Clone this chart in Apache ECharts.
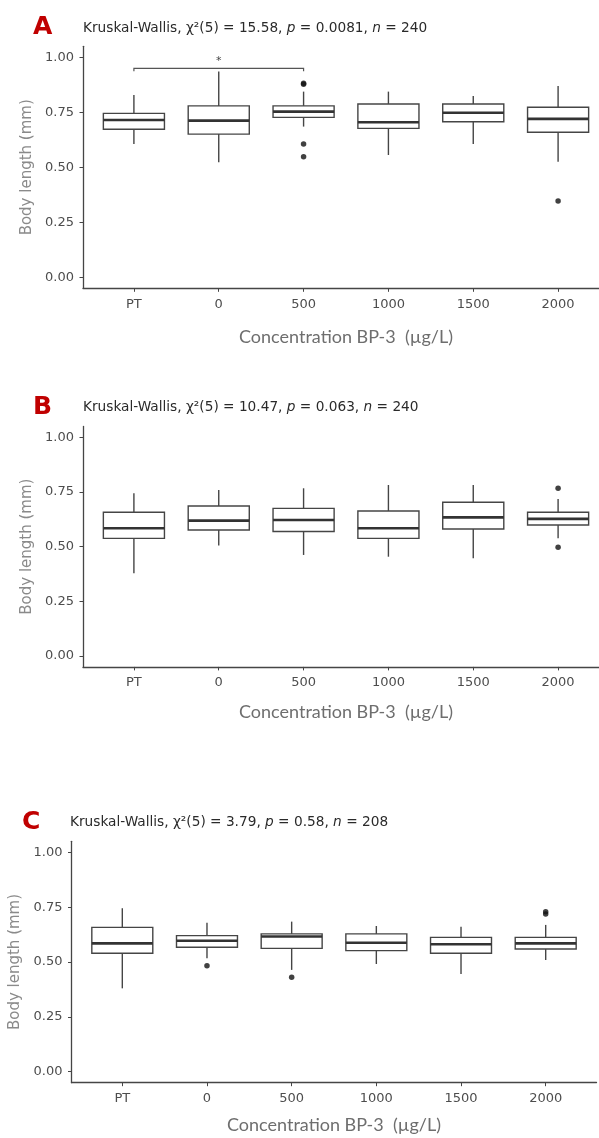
<!DOCTYPE html>
<html>
<head>
<meta charset="utf-8">
<title>Body length vs BP-3</title>
<script src="https://cdn.jsdelivr.net/npm/echarts@6/dist/echarts.min.js"></script>
<style>
  html, body { margin: 0; padding: 0; background: #fff; }
  #chart { width: 599px; height: 1138px; }
</style>
</head>
<body>
<div id="chart"></div>
<script>
// categories on the x axis
var categories = ['PT', '0', '500', '1000', '1500', '2000'];
var yTicks = [0, 0.25, 0.5, 0.75, 1];

// [min, Q1, median, Q3, max] for each category
var boxA = [
  [0.606, 0.673, 0.715, 0.745, 0.829],
  [0.523, 0.651, 0.712, 0.779, 0.935],
  [0.685, 0.727, 0.753, 0.779, 0.844],
  [0.556, 0.677, 0.705, 0.788, 0.844],
  [0.606, 0.707, 0.748, 0.788, 0.824],
  [0.525, 0.659, 0.720, 0.773, 0.870]
];
var boxB = [
  [0.378, 0.538, 0.584, 0.657, 0.744],
  [0.505, 0.576, 0.619, 0.686, 0.759],
  [0.462, 0.569, 0.622, 0.675, 0.767],
  [0.454, 0.538, 0.584, 0.663, 0.782],
  [0.447, 0.581, 0.634, 0.703, 0.782],
  [0.538, 0.599, 0.627, 0.657, 0.718]
];
var boxC = [
  [0.380, 0.540, 0.585, 0.658, 0.745],
  [0.517, 0.567, 0.597, 0.620, 0.679],
  [0.464, 0.562, 0.616, 0.628, 0.684],
  [0.491, 0.552, 0.588, 0.628, 0.664],
  [0.445, 0.540, 0.581, 0.612, 0.661],
  [0.509, 0.559, 0.585, 0.612, 0.669]
];

// outliers: [category, value]
var outA = [['500', 0.882], ['500', 0.877], ['500', 0.606], ['500', 0.548], ['2000', 0.347]];
var outB = [['2000', 0.767], ['2000', 0.497]];
var outC = [['0', 0.483], ['500', 0.430], ['2000', 0.729], ['2000', 0.719]];

// significance bracket in panel A: [from, to, level, tip]
var bracketA = [['PT', '500', 0.95, 0.937]];
var bracketLabel = '*';

// Kruskal-Wallis results
var letters = ['A', 'B', 'C'];
var chi2 = ['15.58', '10.47', '3.79'];
var pValues = ['0.0081', '0.063', '0.58'];
var nValues = ['240', '240', '208'];

var yName = 'Body length (mm)';
var xName = 'Concentration BP-3  (\u00b5g/L)';

var boxWidth = 0.72;
var sansFont = 'DejaVu Sans';
var lineColor = '#454545';

// grid geometry of each panel (px)
var layouts = [
  { left: 83, top: 46.3, width: 526, height: 242, letter: [33, 15], sub: [83, 21], nameGapY: 43, nameGapX: 40, labelMargin: 10 },
  { left: 83, top: 426.4, width: 526, height: 240.5, letter: [33, 395], sub: [83, 400], nameGapY: 43, nameGapX: 36, labelMargin: 9 },
  { left: 71.5, top: 841.3, width: 525, height: 241.4, letter: [22, 810], sub: [70, 815], nameGapY: 46, nameGapX: 33, labelMargin: 9 }
];

var boxes = [boxA, boxB, boxC];
var outliers = [outA, outB, outC];

function catPos(name) {
  return categories.indexOf(name) + 1;
}

function renderBox(params, api) {
  var x = api.value(0);
  var lo = api.coord([x, api.value(1)]);
  var q1 = api.coord([x, api.value(2)]);
  var md = api.coord([x, api.value(3)]);
  var q3 = api.coord([x, api.value(4)]);
  var hi = api.coord([x, api.value(5)]);
  var half = api.size([boxWidth, 0])[0] / 2;
  var thin = { stroke: lineColor, lineWidth: 1.4 };
  return {
    type: 'group',
    children: [
      { type: 'line', shape: { x1: lo[0], y1: lo[1], x2: q1[0], y2: q1[1] }, style: thin },
      { type: 'line', shape: { x1: q3[0], y1: q3[1], x2: hi[0], y2: hi[1] }, style: thin },
      {
        type: 'rect',
        shape: { x: q3[0] - half, y: q3[1], width: half * 2, height: q1[1] - q3[1] },
        style: { fill: '#fff', stroke: lineColor, lineWidth: 1.4 }
      },
      { type: 'line', shape: { x1: md[0] - half, y1: md[1], x2: md[0] + half, y2: md[1] }, style: { stroke: '#333', lineWidth: 2.6 } }
    ]
  };
}

function renderBracket(params, api) {
  var a = api.coord([api.value(0), api.value(2)]);
  var b = api.coord([api.value(1), api.value(2)]);
  var ta = api.coord([api.value(0), api.value(3)]);
  var tb = api.coord([api.value(1), api.value(3)]);
  return {
    type: 'group',
    children: [
      {
        type: 'polyline',
        shape: { points: [ta, a, b, tb] },
        style: { stroke: '#555', lineWidth: 1.2, fill: null }
      },
      {
        type: 'text',
        x: (a[0] + b[0]) / 2,
        y: a[1] - 2,
        style: { text: bracketLabel, fill: '#444', fontSize: 11, fontFamily: sansFont, align: 'center', verticalAlign: 'bottom' }
      }
    ]
  };
}

var option = {
  animation: false,
  backgroundColor: '#fff',
  title: [],
  grid: [],
  xAxis: [],
  yAxis: [],
  series: []
};

layouts.forEach(function(l, i) {
  option.title.push({
    text: letters[i],
    left: l.letter[0],
    top: l.letter[1],
    padding: 0,
    textStyle: { fontFamily: sansFont, fontWeight: 'bold', fontSize: 25, color: '#c00000' }
  });
  option.title.push({
    text: 'Kruskal-Wallis, \u03c7\u00b2(5) = ' + chi2[i] + ', {i|p} = ' + pValues[i] + ', {i|n} = ' + nValues[i],
    left: l.sub[0],
    top: l.sub[1],
    padding: 0,
    textStyle: {
      fontFamily: sansFont, fontWeight: 'normal', fontSize: 13.7, color: '#2a2a2a',
      rich: { i: { fontFamily: sansFont, fontStyle: 'italic', fontSize: 13.7, color: '#2a2a2a' } }
    }
  });
  option.grid.push({ left: l.left, top: l.top, width: l.width, height: l.height, outerBoundsMode: 'none' });
  option.xAxis.push({
    type: 'value',
    gridIndex: i,
    min: 0.4,
    max: 6.6,
    name: xName,
    nameLocation: 'middle',
    nameGap: l.nameGapX,
    nameTextStyle: { fontFamily: 'Lato', fontSize: 18, color: '#6e6e6e' },
    splitLine: { show: false },
    axisLine: { onZero: false, lineStyle: { color: lineColor, width: 1.3 } },
    axisTick: { length: 3.5, customValues: [1, 2, 3, 4, 5, 6], lineStyle: { color: lineColor } },
    axisLabel: {
      customValues: [1, 2, 3, 4, 5, 6],
      margin: l.labelMargin,
      fontFamily: sansFont,
      fontSize: 13,
      color: '#4d4d4d',
      formatter: function(v) { return categories[Math.round(v) - 1]; }
    }
  });
  option.yAxis.push({
    type: 'value',
    gridIndex: i,
    min: -0.05,
    max: 1.05,
    name: yName,
    nameLocation: 'middle',
    nameGap: l.nameGapY,
    nameTextStyle: { fontFamily: sansFont, fontSize: 15, color: '#8a8a8a' },
    splitLine: { show: false },
    axisLine: { show: true, onZero: false, lineStyle: { color: lineColor, width: 1.3 } },
    axisTick: { show: true, length: 3.5, customValues: yTicks, lineStyle: { color: lineColor } },
    axisLabel: {
      customValues: yTicks,
      margin: 9,
      fontFamily: sansFont,
      fontSize: 13,
      color: '#4d4d4d',
      formatter: function(v) { return v.toFixed(2); }
    }
  });
  option.series.push({
    type: 'custom',
    xAxisIndex: i,
    yAxisIndex: i,
    silent: true,
    renderItem: renderBox,
    encode: { x: 0, y: [1, 2, 3, 4, 5] },
    data: boxes[i].map(function(b, k) { return [k + 1].concat(b); })
  });
  option.series.push({
    type: 'scatter',
    xAxisIndex: i,
    yAxisIndex: i,
    silent: true,
    symbolSize: 5.5,
    itemStyle: { color: '#111' },
    data: outliers[i].map(function(o) { return [catPos(o[0]), o[1]]; })
  });
});

option.series.push({
  type: 'custom',
  xAxisIndex: 0,
  yAxisIndex: 0,
  silent: true,
  renderItem: renderBracket,
  encode: { x: [0, 1], y: [2, 3] },
  data: bracketA.map(function(b) { return [catPos(b[0]), catPos(b[1]), b[2], b[3]]; })
});

var chart = echarts.init(document.getElementById('chart'));
chart.setOption(option);
</script>
</body>
</html>
